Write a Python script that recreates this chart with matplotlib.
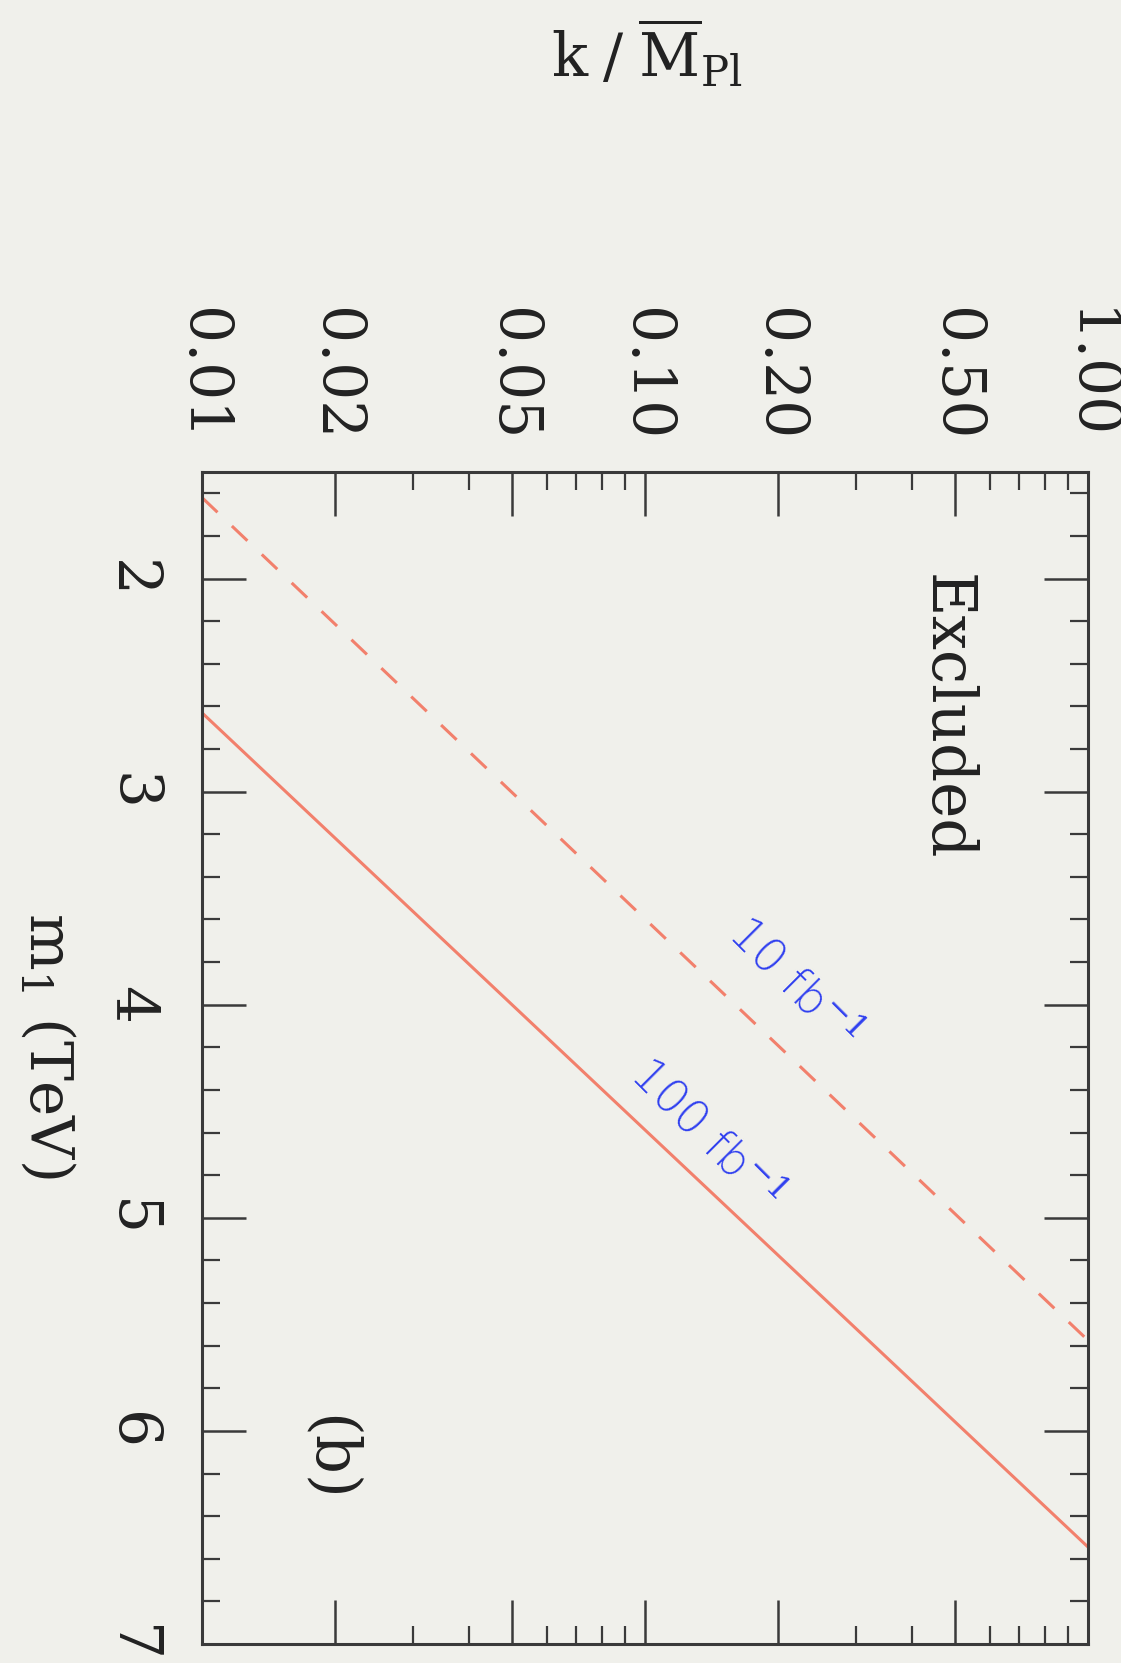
import matplotlib
matplotlib.use('Agg')
import matplotlib.pyplot as plt
from matplotlib.ticker import FixedLocator, MultipleLocator, NullFormatter

plt.rcParams['font.family'] = ['DejaVu Serif']
plt.rcParams['mathtext.fontset'] = 'dejavuserif'

# reach lines: k/M_Pl at both ends of the plot, m_1 (TeV) reached there
k_ends = [0.01, 1.0]
m1_10fb = [1.62, 5.575]
m1_100fb = [2.63, 6.545]

# axis ticks
k_major = [0.01, 0.02, 0.05, 0.10, 0.20, 0.50, 1.00]
k_labels = ['0.01', '0.02', '0.05', '0.10', '0.20', '0.50', '1.00']
k_minor = [0.03, 0.04, 0.06, 0.07, 0.08, 0.09, 0.3, 0.4, 0.6, 0.7, 0.8, 0.9]

bg = '#f0f0eb'
ink = '#3a3a3a'
red = '#f2806c'
blue = '#2f3ff0'

W, H = 1121, 1663
fig = plt.figure(figsize=(W / 100, H / 100), dpi=100, facecolor=bg)
# page is turned sideways: k runs to the right, m_1 runs downwards
ax = fig.add_axes([202 / W, 1 - 1644 / H, (1088 - 202) / W, (1644 - 472) / H])
ax.set_facecolor(bg)

ax.plot(k_ends, m1_10fb, color=red, lw=2.2, ls=(0, (7, 6.5)))
ax.plot(k_ends, m1_100fb, color=red, lw=2.2)

ax.set_xscale('log')
ax.set_xlim(0.01, 1.0)
ax.set_ylim(7, 1.5)

ax.xaxis.set_major_locator(FixedLocator(k_major))
ax.xaxis.set_minor_locator(FixedLocator(k_minor))
ax.xaxis.set_minor_formatter(NullFormatter())
ax.set_xticklabels(k_labels)
ax.yaxis.set_major_locator(MultipleLocator(1))
ax.yaxis.set_minor_locator(MultipleLocator(0.2))

ax.tick_params(which='both', direction='in', top=True, bottom=True,
               left=True, right=True, color=ink, labelcolor='#222222')
ax.tick_params(which='major', length=32, width=1.8)
ax.tick_params(which='minor', length=13, width=1.6)
ax.tick_params(axis='x', labeltop=True, labelbottom=False, pad=22,
               labelrotation=-90, labelsize=43)
ax.tick_params(axis='y', pad=30, labelrotation=-90, labelsize=43)
for lbl in ax.get_yticklabels():
    lbl.set_va('center')

for s in ax.spines.values():
    s.set_color(ink)
    s.set_linewidth(2.2)

txt = dict(color='#222222', fontsize=44, rotation=-90, ha='center', va='center')
ax.text(0.478, 2.65, 'Excluded', **txt)
ax.text(0.0193, 6.13, '(b)', **txt)

lum = dict(color=blue, fontsize=33, family='DejaVu Sans', weight='light',
           rotation=-45, rotation_mode='anchor', ha='center', va='center')
ax.text(0.216, 3.90, r'10 fb$^{-1}$', **lum)
ax.text(0.1366, 4.61, r'100 fb$^{-1}$', **lum)

fig.text(647 / W, 1 - 54 / H, r'$\mathrm{k\;/\;\overline{M}_{Pl}}$',
         fontsize=43, color='#222222', ha='center', va='center')
fig.text(48 / W, 1 - 1045 / H, r'$\mathrm{m_1}$ (TeV)', fontsize=43,
         color='#222222', rotation=-90, ha='center', va='center')

fig.savefig('out.png', dpi=100, facecolor=bg)
